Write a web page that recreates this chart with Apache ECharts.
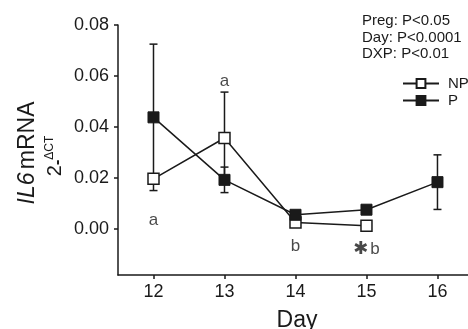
<!DOCTYPE html>
<html><head><meta charset="utf-8">
<script src="https://cdn.jsdelivr.net/npm/echarts@6/dist/echarts.min.js"></script>
<style>html,body{margin:0;padding:0;background:#fff}#c{width:468px;height:329px}</style>
</head><body><div id="c"></div>
<script>
const days = [12, 13, 14, 15, 16];
const npMean = [0.0197, 0.0357, 0.0026, 0.0013, null];
const npErr  = [0.0020, 0.0180, 0.0010, 0.0008, null];
const pMean  = [0.0438, 0.0193, 0.0056, 0.0076, 0.0184];
const pErr   = [0.0287, 0.0050, 0.0010, 0.0010, 0.0107];
const yTicks = [0, 0.02, 0.04, 0.06, 0.08];
const annoDay = [12, 13, 14, 15];
const annoY = [0.0036, 0.0578, -0.0069, -0.0081];
const annoText = ['a', 'a', 'b', '{ast|✱}{t|b}'];
const statsText = ['Preg: P<0.05', 'Day: P<0.0001', 'DXP: P<0.01'];

const ink = '#1a1a1a';
const font = 'Liberation Sans, Arial, sans-serif';

function pairs(m) { return days.map((d, i) => m[i] == null ? null : [d, m[i]]).filter(v => v); }
function errData(m, e) { return days.map((d, i) => m[i] == null ? null : [d, m[i], e[i]]).filter(v => v); }

function errRender(params, api) {
  const x = api.value(0), m = api.value(1), e = api.value(2);
  const top = api.coord([x, m + e]);
  const bot = api.coord([x, m - e]);
  const hw = 4;
  const st = { stroke: ink, lineWidth: 1.5 };
  return { type: 'group', children: [
    { type: 'line', shape: { x1: top[0], y1: top[1], x2: bot[0], y2: bot[1] }, style: st },
    { type: 'line', shape: { x1: top[0] - hw, y1: top[1], x2: top[0] + hw, y2: top[1] }, style: st },
    { type: 'line', shape: { x1: bot[0] - hw, y1: bot[1], x2: bot[0] + hw, y2: bot[1] }, style: st }
  ]};
}

const chart = echarts.init(document.getElementById('c'), null, { renderer: 'canvas' });
chart.setOption({
  animation: false,
  textStyle: { fontFamily: font, color: ink },
  grid: { left: 118, top: 25, right: 0, bottom: 54, containLabel: false, outerBoundsMode: 'none' },
  xAxis: {
    type: 'value', min: 11.5, max: 16.43,
    splitLine: { show: false },
    axisLine: { onZero: false, lineStyle: { color: ink, width: 1.5 } },
    axisTick: { customValues: days, length: 4, lineStyle: { color: ink, width: 1.5 } },
    axisLabel: { customValues: days, fontSize: 18, color: ink, margin: 8, fontFamily: font },
    name: 'Day', nameLocation: 'middle', nameGap: 34,
    nameTextStyle: { fontSize: 23, color: ink, fontFamily: font, padding: [0, 0, 0, 8] }
  },
  yAxis: {
    type: 'value', min: -0.018, max: 0.08,
    splitLine: { show: false },
    axisLine: { show: true, onZero: false, lineStyle: { color: ink, width: 1.5 } },
    axisTick: { show: true, customValues: yTicks, length: 4, lineStyle: { color: ink, width: 1.5 } },
    axisLabel: { customValues: yTicks, fontSize: 18, color: ink, margin: 9, fontFamily: font,
      formatter: v => v.toFixed(2) }
  },
  legend: {
    data: ['NP', 'P'], orient: 'vertical', left: 397, top: 71,
    itemWidth: 36, itemHeight: 11, itemGap: 2,
    textStyle: { fontSize: 15, color: ink, fontFamily: font, padding: [0, 0, 0, 4] }
  },
  graphic: [
    { type: 'text', left: 362, top: 13, style: { text: statsText.join('\n'), fontSize: 15, lineHeight: 16.5, fill: ink, fontFamily: font } },
    { type: 'text', x: 28, y: 153, rotation: Math.PI / 2,
      style: { text: '{i|IL6} {n|mRNA}', align: 'center', verticalAlign: 'middle', fill: ink,
        rich: { i: { fontStyle: 'italic', fontSize: 23, fontFamily: font, fill: ink }, n: { fontSize: 23, fontFamily: font, fill: ink } } } },
    { type: 'text', x: 55, y: 156, rotation: Math.PI / 2,
      style: { text: '{b|2}{m|-}{s|ΔCT}', align: 'center', verticalAlign: 'middle', fill: ink,
        rich: {
          b: { fontSize: 20, lineHeight: 22, fontFamily: font, fill: ink },
          m: { fontSize: 16, lineHeight: 20, verticalAlign: 'bottom', fontFamily: font, fontWeight: 'bold', fill: ink },
          s: { fontSize: 12, lineHeight: 13, verticalAlign: 'top', fontFamily: font, fill: ink }
        } } }
  ],
  series: [
    { type: 'custom', name: 'NPerr', renderItem: errRender, data: errData(npMean, npErr), z: 1, silent: true },
    { type: 'custom', name: 'Perr', renderItem: errRender, data: errData(pMean, pErr), z: 1, silent: true },
    { type: 'line', name: 'NP', data: pairs(npMean), symbol: 'rect', symbolSize: 11, z: 3,
      lineStyle: { color: ink, width: 1.5 },
      itemStyle: { color: '#fff', borderColor: ink, borderWidth: 1.5 } },
    { type: 'line', name: 'P', data: pairs(pMean), symbol: 'rect', symbolSize: 11, z: 4,
      lineStyle: { color: ink, width: 1.5 },
      itemStyle: { color: ink, borderColor: ink, borderWidth: 1 } },
    { type: 'scatter', name: 'anno', symbolSize: 0, silent: true, z: 5,
      data: annoDay.map((d, i) => ({ value: [d, annoY[i]], label: { formatter: annoText[i] } })),
      label: { show: true, position: 'inside', fontSize: 17, color: ink, fontFamily: font,
        rich: { ast: { fontSize: 18, fontWeight: 'bold', fontFamily: 'DejaVu Sans', fill: ink, padding: [0, 2, 0, 0] }, t: { fontSize: 17, fontFamily: font, fill: ink } } } }
  ]
});
</script></body></html>
